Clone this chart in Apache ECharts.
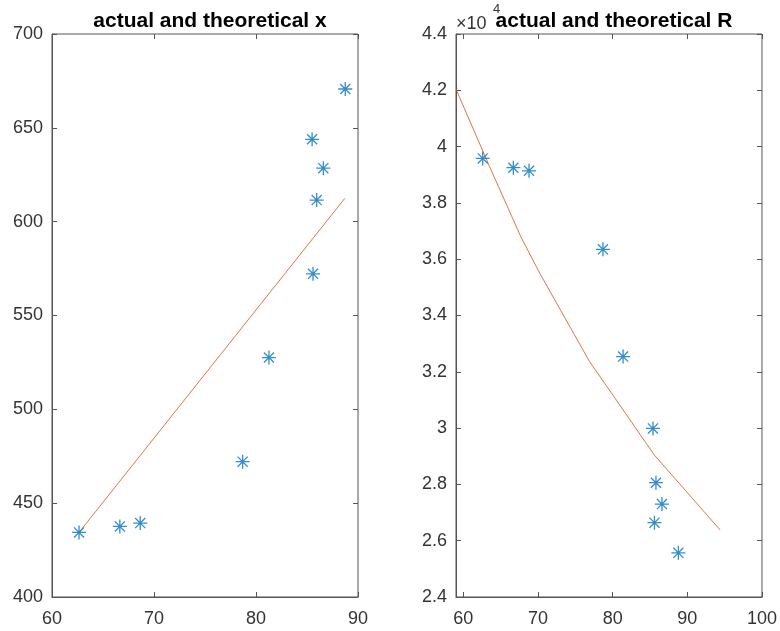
<!DOCTYPE html>
<html>
<head>
<meta charset="utf-8">
<script src="https://cdn.jsdelivr.net/npm/echarts@6/dist/echarts.min.js"></script>
<style>html,body{margin:0;padding:0;background:#fff;}#c{width:780px;height:631px;}</style>
</head>
<body>
<div id="c"></div>
<script>
// ---- data ----
const leftX = [62.65, 66.65, 68.65, 78.69, 81.27, 85.59, 85.95, 86.6, 85.5, 88.75];
const leftActual = [434.4, 437.6, 439.4, 472.1, 527.6, 572.2, 611.5, 628.5, 643.9, 670.7];
const leftTheoryX = [62.65, 88.7];
const leftTheoryY = [434.4, 612.4];

const rightX = [62.6, 66.7, 68.8, 78.7, 81.4, 85.4, 85.8, 86.6, 85.6, 88.8];
const rightActual = [39580, 39250, 39140, 36350, 32540, 29990, 28060, 27300, 26640, 25570];
const rightTheoryX = [59.02, 63.5, 67.7, 70.24, 76.91, 80.48, 85.59, 94.4];
const rightTheoryY = [42040, 39300, 36800, 35500, 32360, 31000, 29040, 26380];

const leftXTicks = [60, 70, 80, 90];
const rightXTicks = [60, 70, 80, 90, 100];
const titles = ['actual and theoretical x', 'actual and theoretical R'];

// ---- styling ----
const FONT = 'Liberation Sans, Arial, Helvetica, sans-serif';
const AX = '#555555';
const LBL = '#333333';
const BLUE = '#0072BD';
const RED = '#D95319';
const STAR = 'path://M0,-1L0,1M-1,0L1,0M-0.72,-0.72L0.72,0.72M-0.72,0.72L0.72,-0.72';

const zip = (a, b) => a.map((v, i) => [v, b[i]]);

function xAx(gi, min, max, ticks, top) {
  return {
    type: 'value', gridIndex: gi, min: min, max: max, position: top ? 'top' : 'bottom',
    splitLine: {show: false},
    axisLine: {show: !top, lineStyle: {color: AX, width: 1}},
    axisTick: {show: true, inside: true, length: 5, customValues: ticks, lineStyle: {color: AX}},
    axisLabel: {show: !top, customValues: ticks, color: LBL, fontSize: 18, fontFamily: FONT, margin: 13},
  };
}
function yAx(gi, min, max, interval, right, fmt) {
  return {
    type: 'value', gridIndex: gi, min: min, max: max, interval: interval, position: right ? 'right' : 'left',
    splitLine: {show: false},
    axisLine: {show: !right, lineStyle: {color: AX, width: 1}},
    axisTick: {show: true, inside: true, length: 5, lineStyle: {color: AX}},
    axisLabel: {show: !right, color: LBL, fontSize: 18, fontFamily: FONT, margin: 9, formatter: fmt},
  };
}

const option = {
  backgroundColor: '#fff',
  animation: false,
  title: [
    {text: titles[0], left: 205, top: 6, textAlign: 'center',
     textStyle: {fontSize: 21, fontWeight: 'bold', color: '#000', fontFamily: FONT}},
    {text: titles[1], left: 609, top: 6, textAlign: 'center',
     textStyle: {fontSize: 21, fontWeight: 'bold', color: '#000', fontFamily: FONT}}
  ],
  graphic: [
    {type: 'text', left: 456, top: 15, z: 0, style: {text: '×10', fontSize: 18, fill: LBL, fontFamily: FONT}},
    {type: 'text', left: 493, top: 3, z: 0, style: {text: '4', fontSize: 13, fill: LBL, fontFamily: FONT}}
  ],
  grid: [
    {left: 52, top: 34, width: 306, height: 563, show: true, borderColor: AX, borderWidth: 1, backgroundColor: '#fff'},
    {left: 456, top: 34, width: 306, height: 563, show: true, borderColor: AX, borderWidth: 1, backgroundColor: '#fff'}
  ],
  xAxis: [
    xAx(0, 60, 90, leftXTicks, false),
    xAx(0, 60, 90, leftXTicks, true),
    xAx(1, 59.02, 100, rightXTicks, false),
    xAx(1, 59.02, 100, rightXTicks, true)
  ],
  yAxis: [
    yAx(0, 400, 700, 50, false),
    yAx(0, 400, 700, 50, true),
    yAx(1, 24000, 44000, 2000, false, v => String(+(v / 10000).toFixed(1))),
    yAx(1, 24000, 44000, 2000, true)
  ],
  series: [
    {type: 'line', xAxisIndex: 0, yAxisIndex: 0, data: zip(leftTheoryX, leftTheoryY),
     showSymbol: false, lineStyle: {color: RED, width: 1, opacity: 0.8}, z: 2},
    {type: 'scatter', xAxisIndex: 0, yAxisIndex: 0, data: zip(leftX, leftActual),
     symbol: STAR, symbolSize: 14, itemStyle: {color: 'none', borderColor: BLUE, borderWidth: 1.3}, z: 3},
    {type: 'line', xAxisIndex: 2, yAxisIndex: 2, data: zip(rightTheoryX, rightTheoryY),
     showSymbol: false, lineStyle: {color: RED, width: 1, opacity: 0.8}, z: 2},
    {type: 'scatter', xAxisIndex: 2, yAxisIndex: 2, data: zip(rightX, rightActual),
     symbol: STAR, symbolSize: 14, itemStyle: {color: 'none', borderColor: BLUE, borderWidth: 1.3}, z: 3}
  ]
};
const chart = echarts.init(document.getElementById('c'), null, {renderer: 'canvas'});
chart.setOption(option);
</script>
</body>
</html>
